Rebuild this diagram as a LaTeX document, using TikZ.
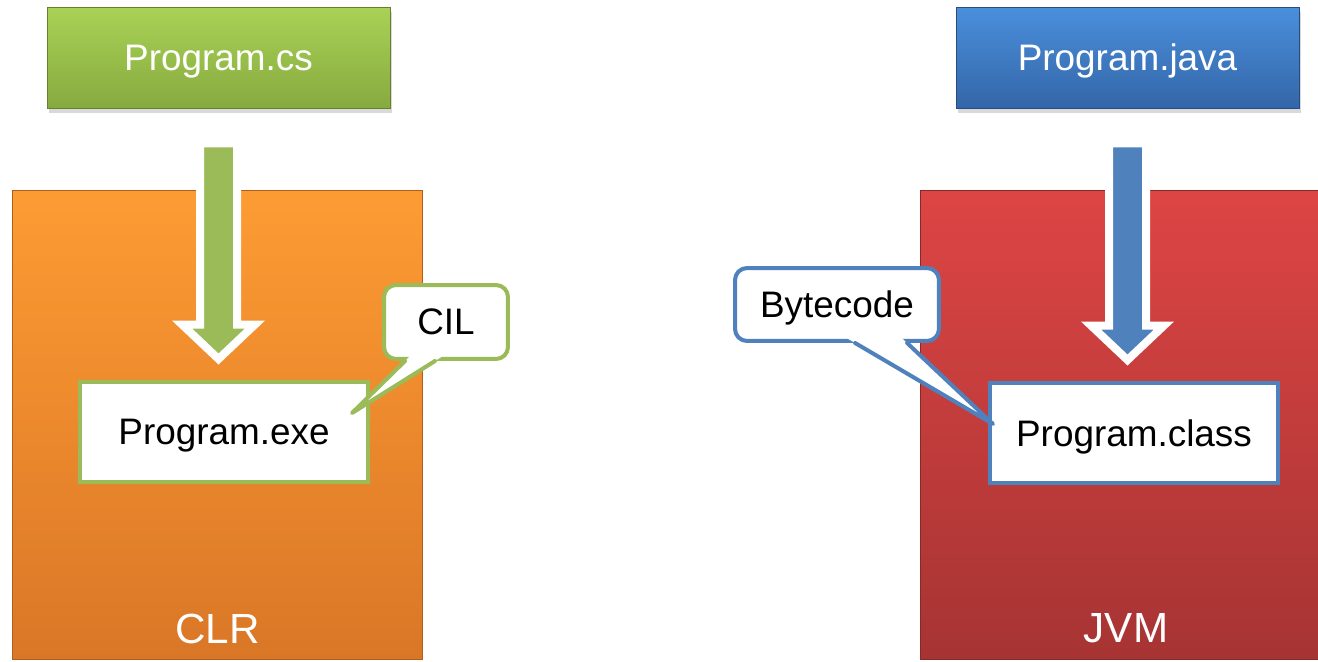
\documentclass[tikz,border=0pt]{standalone}
\usepackage{fontspec}
\setmainfont{Liberation Sans}
\usetikzlibrary{calc,positioning,shadows}
\definecolor{gruen}{HTML}{9BBB59}
\definecolor{gruenhell}{HTML}{A9D256}
\definecolor{gruendunkel}{HTML}{87AA3F}
\definecolor{blau}{HTML}{4F81BD}
\definecolor{blauhell}{HTML}{4A8FDC}
\definecolor{blaudunkel}{HTML}{3466A8}
\definecolor{orangehell}{HTML}{FD9B33}
\definecolor{orangedunkel}{HTML}{DA7727}
\definecolor{rothell}{HTML}{DD4544}
\definecolor{rotdunkel}{HTML}{A63433}

\begin{document}
\begin{tikzpicture}[x=0.02cm,y=-0.02cm,
  schrift/.style={font=\fontsize{21}{25}\selectfont, text depth=0pt},
  quelle/.style={schrift, text=white, inner sep=0pt, draw=#1!75!black, line width=0.4pt,
    minimum width=6.86cm, minimum height=2.02cm,
    drop shadow={shadow xshift=1pt, shadow yshift=-3pt, opacity=0.3}},
  laufzeit/.style={draw=#1!80!black, line width=0.6pt, inner sep=0pt,
    minimum width=8.22cm, minimum height=9.4cm},
  gross/.style={font=\fontsize{24}{28}\selectfont, text=white},
  datei/.style={schrift, draw=#1, fill=white, line width=0.08cm, inner sep=0pt,
    minimum width=5.78cm, minimum height=2.0cm},
  blase/.style={schrift, draw=#1, fill=white, line width=0.08cm, inner sep=0pt,
    rounded corners=0.24cm},
  dickpfeil/.style={draw=white, fill=#1, line width=0.16cm, line join=miter}]
  \useasboundingbox (0,0) rectangle (1318,662);
%Masse der dicken Pfeile (in Pixel)
  \pgfmathsetmacro{\sb}{18.5}
  \pgfmathsetmacro{\kb}{36.5}
  \pgfmathsetmacro{\kl}{34.5}
% links: C#
\node[quelle=gruendunkel, top color=gruenhell, bottom color=gruendunkel] (cs) at (218.5,57.5) {Program.cs};
\node[laufzeit=orangedunkel, top color=orangehell, bottom color=orangedunkel] (clr) at (217.5,425) {};
\node[gross] (clrtext) at ($(clr.south)+(0,-32)$) {CLR};
% rechts: Java
\node[quelle=blaudunkel, top color=blauhell, bottom color=blaudunkel] (java) at (1127.5,57.5) {Program.java};
\node[laufzeit=rotdunkel, top color=rothell, bottom color=rotdunkel] (jvm) at (1126,425) {};
\node[gross] (jvmtext) at ($(jvm.south)+(0,-32)$) {JVM};
% Dateien
\node[datei=gruen] (exe) at (224,432) {Program.exe};
\node[datei=blau] (cls) at (1134,433) {Program.class};
% Pfeile
\foreach \von/\nach/\farbe in {cs/exe/gruen, java/cls/blau}{
  \coordinate (a) at ($(\von.south)+(0,35)$);
  \coordinate (b) at ($(\von.south |- \nach.north)+(0,-21)$);
  \draw[dickpfeil=\farbe] (a) ++(-\sb,0) -- ++(2*\sb,0) -- ($(b)+(\sb,-\kl)$) -- ++(\kb-\sb,0) -- (b)
    -- ($(b)+(-\kb,-\kl)$) -- ++(\kb-\sb,0) -- cycle;
}
% Sprechblasen
\node[blase=gruen, minimum width=2.48cm, minimum height=1.48cm] (cil) at (446,322) {CIL};
\coordinate (cilspitze) at (352,413);
\coordinate (c1) at ($(cil.south west)!0.18!(cil.south east)$);
\coordinate (c2) at ($(cil.south west)!0.414!(cil.south east)$);
\fill[white] ($(cilspitze)!1.1!(c1)$) -- ($(cilspitze)!1.1!(c2)$) -- (cilspitze) -- cycle;
\draw[gruen, line width=0.08cm, line join=round, line cap=round] (c1) -- (cilspitze) -- (c2);

\node[blase=blau, minimum width=4.08cm, minimum height=1.46cm] (byte) at (837,304.5) {Bytecode};
\coordinate (bytespitze) at (993,424);
\coordinate (b1) at ($(byte.south west)!0.587!(byte.south east)$);
\coordinate (b2) at ($(byte.south west)!0.837!(byte.south east)$);
\fill[white] ($(bytespitze)!1.1!(b1)$) -- ($(bytespitze)!1.1!(b2)$) -- (bytespitze) -- cycle;
\draw[blau, line width=0.08cm, line join=round, line cap=round] (b1) -- (bytespitze) -- (b2);
\end{tikzpicture}
\end{document}
